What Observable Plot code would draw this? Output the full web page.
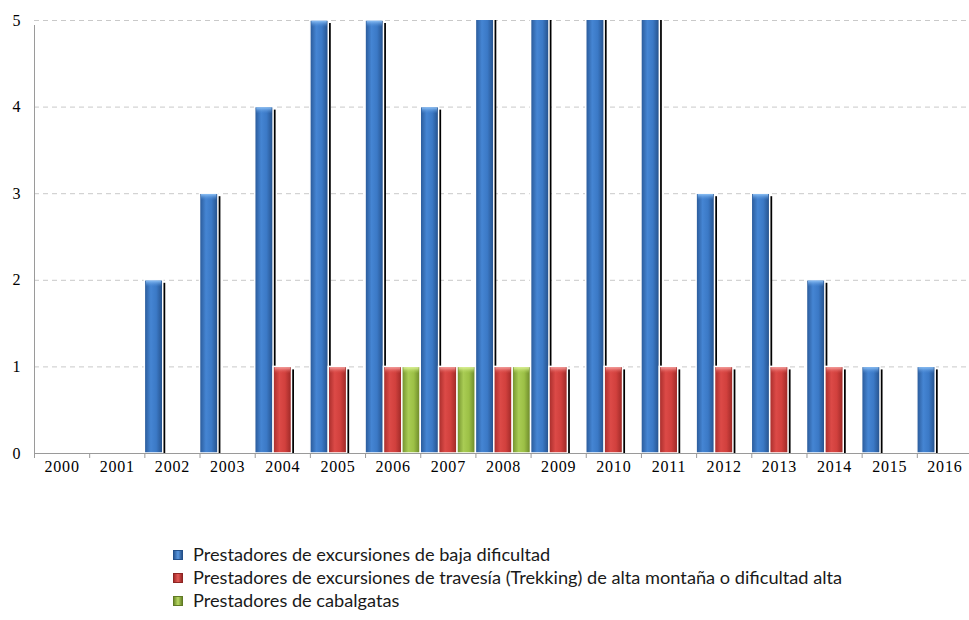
<!DOCTYPE html>
<html>
<head>
<meta charset="utf-8">
<script src="https://cdn.jsdelivr.net/npm/d3@7"></script>
<script src="https://cdn.jsdelivr.net/npm/@observablehq/plot@0.6"></script>
<style>
  html, body { margin: 0; padding: 0; background: #fff; }
  #chart { width: 969px; height: 620px; overflow: hidden; position: relative; }
  #legend { margin-top: 43px; padding-left: 173px; font-family: Lato, "Open Sans", sans-serif; font-size: 18.2px; color: #1a1a1a; }
  .item { height: 23px; line-height: 23px; display: flex; align-items: center; }
  .sw { width: 10px; height: 10px; margin-right: 10px; box-sizing: border-box; }
  .ticklab text { font-family: 'Liberation Serif', 'Times New Roman', serif !important; font-size: 16px !important; }
</style>
</head>
<body>
<svg width="0" height="0" style="position:absolute">
  <defs>
    <linearGradient id="g0" x1="0" x2="1" y1="0" y2="0">
      <stop offset="0" stop-color="#285795"/>
      <stop offset="0.35" stop-color="#4585d3"/>
      <stop offset="0.65" stop-color="#3b79c6"/>
      <stop offset="1" stop-color="#244f88"/>
    </linearGradient>
    <linearGradient id="g1" x1="0" x2="1" y1="0" y2="0">
      <stop offset="0" stop-color="#a52c2a"/>
      <stop offset="0.35" stop-color="#dc4a47"/>
      <stop offset="0.65" stop-color="#d1403d"/>
      <stop offset="1" stop-color="#9a2826"/>
    </linearGradient>
    <linearGradient id="g2" x1="0" x2="1" y1="0" y2="0">
      <stop offset="0" stop-color="#6f8d2c"/>
      <stop offset="0.35" stop-color="#a9cc54"/>
      <stop offset="0.65" stop-color="#9cc046"/>
      <stop offset="1" stop-color="#688428"/>
    </linearGradient>
    <linearGradient id="c0" x1="0" x2="0" y1="0" y2="1">
      <stop offset="0" stop-color="#8cc0f5"/>
      <stop offset="1" stop-color="#4a88d4" stop-opacity="0"/>
    </linearGradient>
    <linearGradient id="c1" x1="0" x2="0" y1="0" y2="1">
      <stop offset="0" stop-color="#f7a5a3"/>
      <stop offset="1" stop-color="#dc4a47" stop-opacity="0"/>
    </linearGradient>
    <linearGradient id="c2" x1="0" x2="0" y1="0" y2="1">
      <stop offset="0" stop-color="#e0f59a"/>
      <stop offset="1" stop-color="#a9cc54" stop-opacity="0"/>
    </linearGradient>
  </defs>
</svg>
<div id="chart"></div>
<script>
// ---- Data ----
const years = [2000, 2001, 2002, 2003, 2004, 2005, 2006, 2007, 2008, 2009, 2010, 2011, 2012, 2013, 2014, 2015, 2016];
const seriesNames = [
  "Prestadores de excursiones de baja dificultad",
  "Prestadores de excursiones de travesía (Trekking) de alta montaña o dificultad alta",
  "Prestadores de cabalgatas"
];
// values above 5 are cut off by the axis in the original (estimated)
const baja       = [0, 0, 2, 3, 4, 5, 5, 4, 6, 6, 6, 6, 3, 3, 2, 1, 1];
const trekking   = [0, 0, 0, 0, 1, 1, 1, 1, 1, 1, 1, 1, 1, 1, 1, 0, 0];
const cabalgatas = [0, 0, 0, 0, 0, 0, 1, 1, 1, 0, 0, 0, 0, 0, 0, 0, 0];
const yTicks = [0, 1, 2, 3, 4, 5];

// ---- Table ----
const seriesValues = [baja, trekking, cabalgatas];
const rows = [];
years.forEach((yr, i) => {
  seriesValues.forEach((vals, j) => {
    if (vals[i] > 0) rows.push({year: yr, j, series: seriesNames[j], value: vals[i]});
  });
});
const x1 = d => d.year + d.j / 3;
const x2 = d => d.year + (d.j + 1) / 3;
const zero = () => 0;

const serif = "'Liberation Serif', 'Times New Roman', serif";

const chart = Plot.plot({
  width: 969,
  height: 500,
  marginLeft: 34,
  marginRight: -3,
  marginTop: 20,
  marginBottom: 47,
  style: {fontFamily: serif, fontSize: "16px", color: "#000", background: "transparent", overflow: "visible"},
  x: {type: "linear", domain: [years[0], years[years.length - 1] + 1], label: null},
  y: {domain: [0, 5], label: null},
  color: {type: "identity"},
  marks: [
    Plot.gridY(yTicks.slice(1), {stroke: "#c9c9c9", strokeOpacity: 1, strokeDasharray: "5,4"}),
    // drop shadows
    Plot.rect(rows, {x1, x2, y1: zero, y2: "value", fill: "#000", dx: 2.5, insetTop: 3, insetLeft: 2, clip: true}),
    // bars
    Plot.rect(rows, {x1, x2, y1: zero, y2: "value", fill: d => `url(#g${d.j})`, stroke: "#fff", strokeWidth: 1.5, clip: true}),
    // top highlight caps
    Plot.rect(rows, {x1, x2, y1: "value", y2: "value", insetBottom: -7, insetLeft: 1.5, insetRight: 1.5, insetTop: 0.8, fill: d => `url(#c${d.j})`, clip: true}),
    // axes lines
    Plot.ruleY([0], {stroke: "#9a9a9a", strokeWidth: 1}),
    Plot.ruleX([years[0]], {y1: 0, y2: 5, stroke: "#9a9a9a", strokeWidth: 1, insetBottom: -5}),
    Plot.axisX({ticks: [...years, years[years.length - 1] + 1], tickSize: 5, tickFormat: () => "", stroke: "#9a9a9a", label: null}),
    Plot.axisX({ticks: years.map(y => y + 0.5), tickSize: 0, tickPadding: 7, tickFormat: d => String(Math.floor(d)), fontSize: 16, fill: "#000", label: null, ariaLabel: "year-labels", className: "ticklab"}),
    Plot.axisY({ticks: yTicks, tickSize: 0, tickPadding: 14, tickFormat: d => String(d), fontSize: 16, fill: "#000", label: null, className: "ticklab"})
  ]
});
d3.select(chart).selectAll("text").each(function () {
  const t = d3.select(this);
  if (/^\d+$/.test(t.text())) t.style("font-family", serif).style("font-size", "16px");
});
d3.select(chart).selectAll("text").filter(function () { return /^20\d\d$/.test(d3.select(this).text()); }).attr("letter-spacing", "0.8px");
document.getElementById("chart").appendChild(chart);

// ---- Legend ----
const legend = document.createElement("div");
legend.id = "legend";
const swatchBorders = ["#23508a", "#8e2523", "#607a24"];
const swatchFills = [
  "linear-gradient(90deg,#2b5b98,#5a98e0,#27538c)",
  "linear-gradient(90deg,#a52c2a,#e45a57,#9a2826)",
  "linear-gradient(90deg,#6f8d2c,#b9da64,#688428)"
];
seriesNames.forEach((name, j) => {
  const item = document.createElement("div");
  item.className = "item";
  const sw = document.createElement("span");
  sw.className = "sw";
  sw.style.background = swatchFills[j];
  sw.style.border = "1px solid " + swatchBorders[j];
  const t = document.createElement("span");
  t.textContent = name;
  item.appendChild(sw);
  item.appendChild(t);
  legend.appendChild(item);
});
document.getElementById("chart").appendChild(legend);
</script>
</body>
</html>
